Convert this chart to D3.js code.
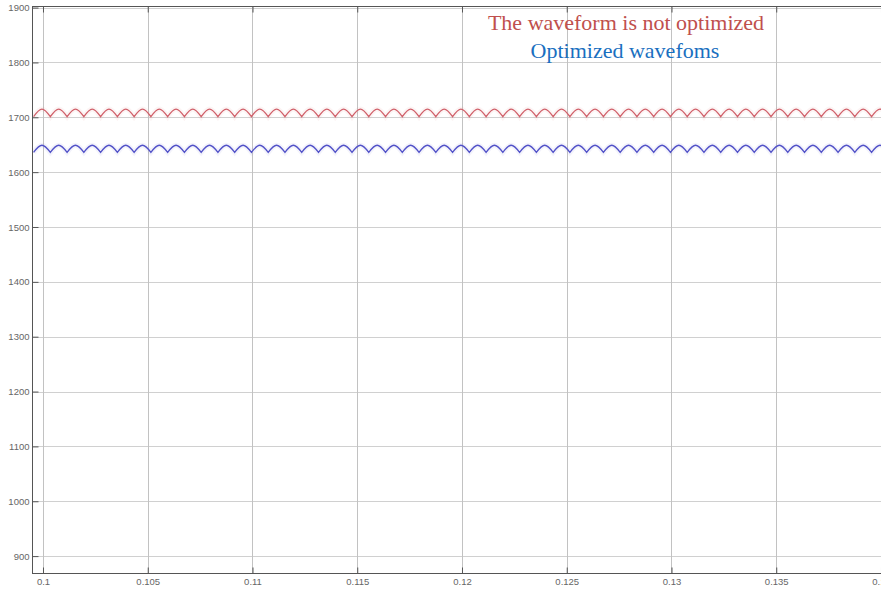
<!DOCTYPE html>
<html>
<head>
<meta charset="utf-8">
<script src="https://cdn.jsdelivr.net/npm/d3@7/dist/d3.min.js"></script>
<style>
  html, body { margin: 0; padding: 0; background: #fff; }
  svg { display: block; }
</style>
</head>
<body>
<div id="chart"></div>
<script>
// ---- data ----
const seriesNames = ["The waveform is not optimized", "Optimized wavefoms"];
const seriesColors = ["#d0606a", "#5252c8"];
const legendColors = ["#c0504d", "#1a6fc0"];
const cuspValues = [1701, 1636];   // bottom of each ripple (cusp)
const peakValues = [1715, 1649];   // top of each ripple hump
const cuspTimes = [
  0.09955, 0.10035, 0.10115, 0.10195, 0.10275, 0.10355, 0.10435, 0.10515, 0.10595, 0.10675,
  0.10755, 0.10835, 0.10915, 0.10995, 0.11075, 0.11155, 0.11235, 0.11315, 0.11395, 0.11475,
  0.11555, 0.11635, 0.11715, 0.11795, 0.11875, 0.11955, 0.12035, 0.12115, 0.12195, 0.12275,
  0.12355, 0.12435, 0.12515, 0.12595, 0.12675, 0.12755, 0.12835, 0.12915, 0.12995, 0.13075,
  0.13155, 0.13235, 0.13315, 0.13395, 0.13475, 0.13555, 0.13635, 0.13715, 0.13795, 0.13875,
  0.13955, 0.14035, 0.14115
];
const yTicks = [900, 1000, 1100, 1200, 1300, 1400, 1500, 1600, 1700, 1800, 1900];
const xTicks = [0.1, 0.105, 0.11, 0.115, 0.12, 0.125, 0.13, 0.135, 0.14];
const xTickLabels = ["0.1", "0.105", "0.11", "0.115", "0.12", "0.125", "0.13", "0.135", "0.14"];

// ---- layout ----
const W = 881, H = 592;
const pL = 32, pT = 6, pB = 573, pR = 900;

const x = d3.scaleLinear().domain([0.099475, 0.140907]).range([pL, pR]);
const y = d3.scaleLinear().domain([869.2, 1902.9]).range([pB, pT]);

const svg = d3.select("#chart").append("svg").attr("width", W).attr("height", H);

svg.append("defs").append("clipPath").attr("id", "clip")
  .append("rect").attr("x", pL).attr("y", pT).attr("width", pR - pL).attr("height", pB - pT);

// grid
const grid = svg.append("g");
grid.selectAll("line.h").data(yTicks).join("line")
  .attr("x1", pL).attr("x2", pR)
  .attr("y1", d => Math.round(y(d)) + 0.5).attr("y2", d => Math.round(y(d)) + 0.5)
  .attr("stroke", "#d0d0d0").attr("stroke-width", 1);
grid.selectAll("line.v").data(xTicks).join("line")
  .attr("y1", pT).attr("y2", pB)
  .attr("x1", d => Math.round(x(d)) + 0.5).attr("x2", d => Math.round(x(d)) + 0.5)
  .attr("stroke", "#c2c2c2").attr("stroke-width", 1);

// series: each ripple hump runs cusp -> peak -> cusp (half-sine-like arch)
function ripplePath(cusp, peak) {
  const yc = y(cusp), yp = y(peak);
  const cy = yc + (yp - yc) * 4 / 3;
  let p = `M${x(cuspTimes[0])},${yc}`;
  for (let i = 0; i < cuspTimes.length - 1; i++) {
    const x0 = x(cuspTimes[i]), x1 = x(cuspTimes[i + 1]);
    const w = x1 - x0;
    p += `C${x0 + w * 0.4244},${cy} ${x1 - w * 0.4244},${cy} ${x1},${yc}`;
  }
  return p;
}
const plot = svg.append("g").attr("clip-path", "url(#clip)");
seriesNames.forEach((name, i) => {
  const d = ripplePath(cuspValues[i], peakValues[i]);
  plot.append("path").attr("d", d).attr("fill", "none")
    .attr("stroke", seriesColors[i]).attr("stroke-opacity", 0.07).attr("stroke-width", 5);
  plot.append("path").attr("d", d).attr("fill", "none")
    .attr("stroke", seriesColors[i]).attr("stroke-width", 1.3);
});

// frame
const frame = svg.append("g").attr("stroke", "#555").attr("stroke-width", 1).attr("fill", "none");
frame.append("line").attr("x1", pL + 0.5).attr("x2", pL + 0.5).attr("y1", pT).attr("y2", pB + 0.5);
frame.append("line").attr("x1", pL).attr("x2", pR).attr("y1", pB + 0.5).attr("y2", pB + 0.5);
frame.append("line").attr("x1", pL).attr("x2", pR).attr("y1", pT + 0.5).attr("y2", pT + 0.5);

// axes with inward ticks
const yAxis = d3.axisLeft(y).tickValues(yTicks).tickSize(-6).tickPadding(3).tickFormat(d3.format("d"));
const gy = svg.append("g").attr("transform", `translate(${pL + 0.5},0)`).call(yAxis);
const xAxis = d3.axisBottom(x).tickValues(xTicks).tickSize(-6).tickPadding(5)
  .tickFormat((d, i) => xTickLabels[i]);
const gx = svg.append("g").attr("transform", `translate(0,${pB + 0.5})`).call(xAxis);
const xTop = d3.axisTop(x).tickValues(xTicks).tickSize(-6).tickFormat("");
const gt = svg.append("g").attr("transform", `translate(0,${pT + 0.5})`).call(xTop);
[gy, gx, gt].forEach(g => {
  g.select(".domain").remove();
  g.selectAll(".tick line").attr("stroke", "#555");
  g.selectAll(".tick text").attr("fill", "#666")
    .style("font-family", "'Liberation Sans', Arial, sans-serif").style("font-size", "9.5px");
});

// legend
svg.append("text").attr("x", 626).attr("y", 30).attr("text-anchor", "middle")
  .attr("fill", legendColors[0]).style("font-family", "'Liberation Serif', 'Times New Roman', serif")
  .style("font-size", "22px").text(seriesNames[0]);
svg.append("text").attr("x", 625).attr("y", 58).attr("text-anchor", "middle")
  .attr("fill", legendColors[1]).style("font-family", "'Liberation Serif', 'Times New Roman', serif")
  .style("font-size", "22px").text(seriesNames[1]);
</script>
</body>
</html>
